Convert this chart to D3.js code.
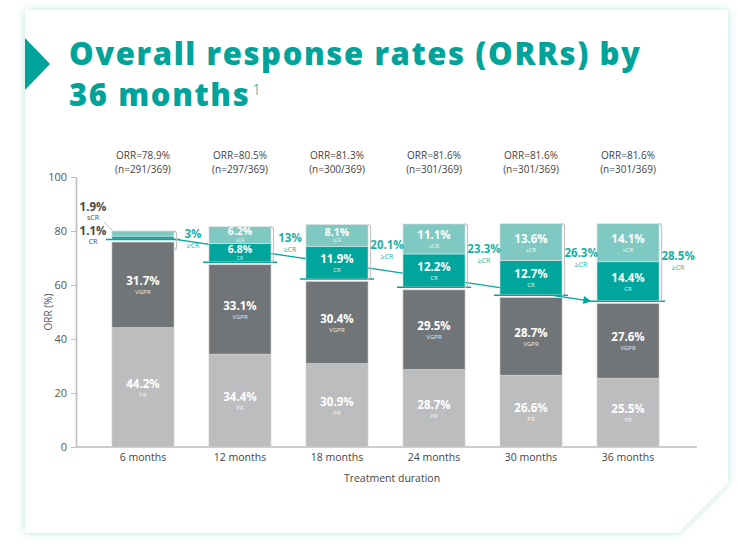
<!DOCTYPE html>
<html>
<head>
<meta charset="utf-8">
<script src="https://cdn.jsdelivr.net/npm/d3@7"></script>
<style>
  html, body { margin: 0; padding: 0; background: #ffffff; }
  svg { display: block; }
  text { font-family: "Open Sans", "DejaVu Sans", sans-serif; }
</style>
</head>
<body>
<svg id="chart" width="738" height="544"></svg>
<script>
// ---------- data ----------
const categories = ["6 months", "12 months", "18 months", "24 months", "30 months", "36 months"];
const prValues   = [44.2, 34.4, 30.9, 28.7, 26.6, 25.5];
const vgprValues = [31.7, 33.1, 30.4, 29.5, 28.7, 27.6];
const crValues   = [1.1, 6.8, 11.9, 12.2, 12.7, 14.4];
const scrValues  = [1.9, 6.2, 8.1, 11.1, 13.6, 14.1];
const geCrLabels = ["3%", "13%", "20.1%", "23.3%", "26.3%", "28.5%"];
const orrLabels  = ["ORR=78.9%", "ORR=80.5%", "ORR=81.3%", "ORR=81.6%", "ORR=81.6%", "ORR=81.6%"];
const nLabels    = ["(n=291/369)", "(n=297/369)", "(n=300/369)", "(n=301/369)", "(n=301/369)", "(n=301/369)"];
const yTicks     = [0, 20, 40, 60, 80, 100];
const seriesKeys = ["PR", "VGPR", "CR", "sCR"];

// ---------- styles ----------
const colors = { PR: "#bcbdbf", VGPR: "#727577", CR: "#00a69b", sCR: "#7fc9c2" };
const teal = "#00a69b";
const tealText = "#19b1a5";
const gap = 3;

const svg = d3.select("#chart");

// ---------- card ----------
const defs = svg.append("defs");
const f = defs.append("filter").attr("id", "glow").attr("x", "-10%").attr("y", "-10%").attr("width", "120%").attr("height", "120%");
f.append("feDropShadow").attr("dx", 0).attr("dy", 0).attr("stdDeviation", 4)
  .attr("flood-color", "#8fd6cf").attr("flood-opacity", 0.6);

svg.append("path")
  .attr("d", "M25,10 L728,10 L728,483 L678,533 L25,533 Z")
  .attr("fill", "#ffffff")
  .attr("filter", "url(#glow)");

// title marker
svg.append("path").attr("d", "M25,38 L50,64 L25,90 Z").attr("fill", "#00a39a");

// title
const titleSize = 31;
const titleG = svg.append("g");
const t1 = titleG.append("text").attr("x", 69).attr("y", 64.5)
  .attr("fill", "#00a39a").attr("font-weight", 800)
  .style("font-family", "'Open Sans', sans-serif")
  .attr("font-size", titleSize).text("Overall response rates (ORRs) by");
const line1 = t1.text();
const w = t1.node().getComputedTextLength();
const ls = Math.max(-0.5, Math.min(1.6, (576 - w) / (line1.length - 1)));
t1.attr("letter-spacing", ls);
const t2 = titleG.append("text").attr("x", 69).attr("y", 106)
  .attr("fill", "#00a39a").attr("font-weight", 800)
  .style("font-family", "'Open Sans', sans-serif")
  .attr("letter-spacing", ls)
  .attr("font-size", titleSize).text("36 months");
const t2w = t2.node().getBBox().width;
titleG.append("text").attr("x", 69 + t2w + 2).attr("y", 95)
  .attr("fill", "#00a39a").attr("font-weight", 300)
  .style("font-family", "'Open Sans', sans-serif")
  .attr("font-size", 15).text("1");

// ---------- scales ----------
const x = d3.scaleBand().domain(categories).range([77, 694]).padding(0.36);
const y = d3.scaleLinear().domain([0, 100]).range([447, 177]);
const bw = x.bandwidth();

const rows = categories.map((c, i) => ({
  cat: c, PR: prValues[i], VGPR: vgprValues[i], CR: crValues[i], sCR: scrValues[i], i: i
}));
const stacked = d3.stack().keys(seriesKeys)(rows);
const byKey = {};
stacked.forEach(s => { byKey[s.key] = s; });

function segY(key, i) {
  const d = byKey[key][i];
  const shift = (key === "CR" || key === "sCR") ? gap : 0;
  return { top: y(d[1]) - shift, bot: y(d[0]) - shift };
}

// ---------- axes ----------
const yAxis = d3.axisLeft(y).tickValues(yTicks).tickSize(5).tickSizeOuter(0).tickPadding(4);
const yg = svg.append("g").attr("transform", "translate(76,0)").call(yAxis);
yg.select(".domain").attr("stroke", "#bdbdbd").attr("stroke-width", 1.6);
yg.selectAll(".tick line").attr("stroke", "#bdbdbd").attr("stroke-width", 1);
yg.selectAll(".tick text").attr("fill", "#555").attr("font-size", 11)
  .style("font-family", "'Open Sans', sans-serif");

svg.append("text")
  .attr("transform", "translate(48,312) rotate(-90)")
  .attr("text-anchor", "middle").attr("dominant-baseline", "central")
  .attr("fill", "#555").attr("font-size", 10).text("ORR (%)");

const xAxis = d3.axisBottom(x).tickSize(0).tickPadding(7);
const xg = svg.append("g").attr("transform", "translate(0,447)").call(xAxis);
xg.select(".domain").remove();
xg.selectAll(".tick text").attr("fill", "#444").attr("font-size", 10.5)
  .style("font-family", "'Open Sans', sans-serif");
svg.append("line")
  .attr("x1", 76).attr("x2", x.range()[1] + 3)
  .attr("y1", y(0)).attr("y2", y(0))
  .attr("stroke", "#bdbdbd").attr("stroke-width", 1.6);

svg.append("text").attr("x", 392).attr("y", 478)
  .attr("text-anchor", "middle").attr("dominant-baseline", "central")
  .attr("fill", "#444").attr("font-size", 10.5).text("Treatment duration");

// ---------- trend arrow (behind bars) ----------
defs.append("marker").attr("id", "arrow")
  .attr("viewBox", "0 0 10 10").attr("refX", 9.5).attr("refY", 5)
  .attr("markerUnits", "userSpaceOnUse")
  .attr("markerWidth", 9).attr("markerHeight", 8).attr("orient", "auto")
  .append("path").attr("d", "M0,0 L10,5 L0,10 Z").attr("fill", teal);

const lastI = categories.length - 1;
const firstLineY = segY("CR", 0).bot;
const lastLineY = segY("CR", lastI).bot;
svg.append("line")
  .attr("x1", x(categories[0]) + bw).attr("y1", firstLineY)
  .attr("x2", x(categories[lastI]) - 6).attr("y2", lastLineY + 0.5)
  .attr("stroke", teal).attr("stroke-width", 1.3)
  .attr("marker-end", "url(#arrow)");

// ---------- bars ----------
const barsG = svg.append("g");
seriesKeys.forEach(key => {
  barsG.selectAll(null).data(byKey[key]).enter().append("rect")
    .attr("x", d => x(d.data.cat))
    .attr("width", bw)
    .attr("y", (d, i) => segY(key, i).top)
    .attr("height", (d, i) => segY(key, i).bot - segY(key, i).top)
    .attr("fill", colors[key])
    .attr("stroke", (key === "CR" || key === "sCR") ? "#e3e3e3" : "#d6d6d6")
    .attr("stroke-width", 0.6);
});

// teal baseline under the CR stack
barsG.selectAll(null).data(rows).enter().append("line")
  .attr("x1", d => x(d.cat) - 6).attr("x2", d => x(d.cat) + bw + 6)
  .attr("y1", d => segY("CR", d.i).bot + 0.5).attr("y2", d => segY("CR", d.i).bot + 0.5)
  .attr("stroke", teal).attr("stroke-width", 1.5);

// segment labels
const labelNames = { PR: "PR", VGPR: "VGPR", CR: "CR", sCR: "sCR" };
const valuesByKey = { PR: prValues, VGPR: vgprValues, CR: crValues, sCR: scrValues };
seriesKeys.forEach(key => {
  rows.forEach((r, i) => {
    if (i === 0 && (key === "CR" || key === "sCR")) return;
    const s = segY(key, i);
    const h = s.bot - s.top;
    const mid = (s.top + s.bot) / 2;
    const cx = x(r.cat) + bw / 2;
    const small = h < 25;
    svg.append("text").attr("x", cx).attr("y", mid - (small ? 3.6 : 4))
      .attr("text-anchor", "middle").attr("dominant-baseline", "central")
      .attr("fill", "#ffffff").attr("font-weight", 700).attr("font-size", small ? 10.5 : 11.5)
      .text(valuesByKey[key][i].toFixed(1) + "%");
    svg.append("text").attr("x", cx).attr("y", mid + (small ? 5 : 7.5))
      .attr("text-anchor", "middle").attr("dominant-baseline", "central")
      .attr("fill", "#ffffff").attr("fill-opacity", 0.9).attr("font-size", small ? 5 : 6)
      .text(labelNames[key]);
  });
});

// brackets and >=CR labels
rows.forEach((r, i) => {
  const top = segY("sCR", i).top;
  const bot = Math.max(segY("CR", i).bot + 0.5, top + 19);
  const xr = x(r.cat) + bw + 2.5;
  svg.append("path")
    .attr("d", `M${xr - 3},${top} Q${xr},${top} ${xr},${top + 3} L${xr},${bot - 3} Q${xr},${bot} ${xr - 3},${bot}`)
    .attr("fill", "none").attr("stroke", "#c4c4c4").attr("stroke-width", 1.2);
  const mid = (top + bot) / 2;
  const lx = x(r.cat) + bw + 19;
  svg.append("text").attr("x", lx).attr("y", mid - 7)
    .attr("text-anchor", "middle").attr("dominant-baseline", "central")
    .attr("fill", tealText).attr("font-weight", 700).attr("font-size", 11.5)
    .text(geCrLabels[i]);
  svg.append("text").attr("x", lx).attr("y", mid + 5)
    .attr("text-anchor", "middle").attr("dominant-baseline", "central")
    .attr("fill", tealText).attr("font-size", 7).text("\u2265CR");
});

// ORR header labels
rows.forEach((r, i) => {
  const cx = x(r.cat) + bw / 2;
  svg.append("text").attr("x", cx).attr("y", 155)
    .attr("text-anchor", "middle").attr("dominant-baseline", "central")
    .attr("fill", "#444").attr("font-size", 10).text(orrLabels[i]);
  svg.append("text").attr("x", cx).attr("y", 168.5)
    .attr("text-anchor", "middle").attr("dominant-baseline", "central")
    .attr("fill", "#444").attr("font-size", 10).text(nLabels[i]);
});

// 6-month outside labels (sCR / CR)
const x0 = x(categories[0]);
const s0 = segY("sCR", 0);
svg.append("line").attr("x1", 104).attr("y1", 222).attr("x2", x0 + 1).attr("y2", s0.top)
  .attr("stroke", "#c4c4c4").attr("stroke-width", 1);
const leftLabels = [
  { t: scrValues[0].toFixed(1) + "%", yy: 206, bold: true },
  { t: "sCR", yy: 217.5, bold: false },
  { t: crValues[0].toFixed(1) + "%", yy: 230, bold: true },
  { t: "CR", yy: 241.5, bold: false }
];
leftLabels.forEach(l => {
  svg.append("text").attr("x", 93).attr("y", l.yy)
    .attr("text-anchor", "middle").attr("dominant-baseline", "central")
    .attr("fill", "#4a4a4a").attr("font-weight", l.bold ? 700 : 400)
    .attr("font-size", l.bold ? 11.5 : 7).text(l.t);
});
</script>
</body>
</html>
